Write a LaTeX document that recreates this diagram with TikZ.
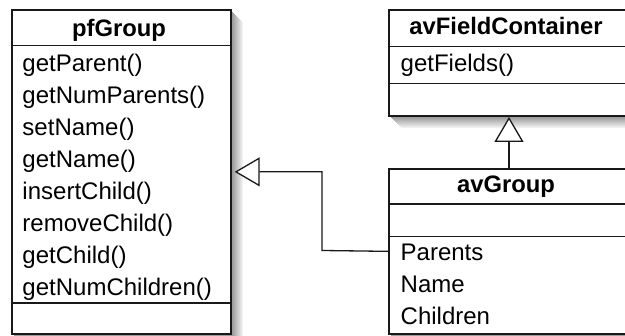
\documentclass[tikz,border=0pt]{standalone}
\usepackage{fontspec}
\setmainfont{Liberation Sans}
\usetikzlibrary{arrows.meta}
\begin{document}
\begin{tikzpicture}[x=1pt,y=-1pt,
  box/.style={draw=black!90, line width=1.7pt, fill=white, inner sep=0pt,
    anchor=north west, rectangle},
  sep/.style={draw=black!90, line width=1.5pt},
  title/.style={font=\fontsize{23.8}{28}\selectfont\bfseries, anchor=base,
    inner sep=0pt},
  item/.style={font=\fontsize{24}{28}\selectfont, anchor=base west,
    inner sep=0pt},
  gen/.style={draw=black!90, line width=1.3pt,
    -{Triangle[length=25pt, width=29pt, fill=white]}}
]
\useasboundingbox (0,0) rectangle (625,336);
\clip (0,0) rectangle (625,336);

% soft drop shadows: stacked offset rectangles, darkest nearest the box
\newcommand\classshadow[4]{%
  \foreach \k in {13,...,1}{%
    \pgfmathsetmacro\shadeval{6+(13-\k)*3.3}%
    \fill[black!\shadeval] ({#1+\k},{#2+\k}) rectangle ({#3+\k},{#4+\k});
  }}
\classshadow{11}{9}{230}{333}
\classshadow{388}{9.5}{626}{115}
\classshadow{388}{168}{626}{333}

% class boxes
\node[box, minimum width=219pt, minimum height=324pt] (pf) at (11,9) {};
\node[box, minimum width=238pt, minimum height=105.5pt] (fc) at (388,9.5) {};
\node[box, minimum width=238pt, minimum height=165pt] (ag) at (388,168) {};

% compartment separators
\draw[sep] (11,45.7) -- (230,45.7);
\draw[sep] (11,303) -- (230,303);
\draw[sep] (388,46.5) -- (626,46.5);
\draw[sep] (388,83.3) -- (626,83.3);
\draw[sep] (388,204) -- (626,204);
\draw[sep] (388,236.5) -- (626,236.5);

% pfGroup
\node[title] (pfname) at (119,36.5) {pfGroup};
\foreach \t [count=\i from 0] in {getParent(), getNumParents(), setName(),
    getName(), insertChild(), removeChild(), getChild(), getNumChildren()}{
  \node[item] (pfop\i) at (22.3,{71.7+32*\i}) {\t};
}

% avFieldContainer
\node[title] (fcname) at (506,34.5) {avFieldContainer};
\node[item] (fcop0) at (400.5,71.5) {getFields()};

% avGroup
\node[title] (agname) at (506,193) {avGroup};
\foreach \t [count=\i from 0] in {Parents, Name, Children}{
  \node[item] (agat\i) at (400.5,{260.7+32*\i}) {\t};
}

% generalisation connectors
\coordinate (bend) at (322,250.5);
\draw[gen, shorten >=3pt] (ag.west) -- (bend) |- (pf.east);
\coordinate (agtop) at (509,168);
\coordinate (fcbot) at (509,115);
\draw[gen, shorten >=2pt] (agtop) -- (fcbot);
\end{tikzpicture}
\end{document}
